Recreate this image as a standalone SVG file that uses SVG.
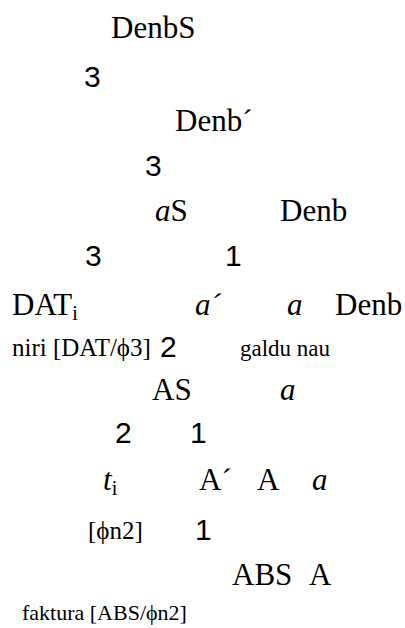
<svg xmlns="http://www.w3.org/2000/svg" width="405" height="628" viewBox="0 0 405 628">
<style>
text{fill:#000}
.t{font-family:"Liberation Serif","Times New Roman",serif;font-size:31px}
.i{font-style:italic}
.d{font-family:"Liberation Sans",Arial,sans-serif;font-size:30px}
.s{font-family:"Liberation Serif","Times New Roman",serif;font-size:23px}
.sub{font-size:20px}
</style>
<rect width="405" height="628" fill="#fff"/>
<g id="connectors"></g>
<g id="n-DenbS"><text class="t" x="111" y="38">DenbS</text></g>
<g id="b1"><text class="d" x="84" y="87">3</text></g>
<g id="n-Denb-bar"><text class="t" x="175" y="131">Denb´</text></g>
<g id="b2"><text class="d" x="145" y="176">3</text></g>
<g id="n-aS"><text class="t" x="155" y="221"><tspan class="i">a</tspan>S</text></g>
<g id="n-Denb1"><text class="t" x="280" y="221">Denb</text></g>
<g id="b3"><text class="d" x="85" y="266">3</text></g>
<g id="b4"><text class="d" x="225" y="266">1</text></g>
<g id="n-DAT"><text class="t" x="12" y="315">DAT<tspan class="sub" dy="5">i</tspan></text></g>
<g id="n-abar"><text class="t i" x="195" y="315">a´</text></g>
<g id="n-a1"><text class="t i" x="287" y="315">a</text></g>
<g id="n-Denb2"><text class="t" x="335" y="315">Denb</text></g>
<g id="l-niri"><text class="s" x="12" y="356" style="font-size:25px">niri [DAT/ϕ3]</text></g>
<g id="b5"><text class="d" x="160" y="357">2</text></g>
<g id="l-galdu"><text class="s" x="240" y="356">galdu nau</text></g>
<g id="n-AS"><text class="t" x="152" y="400">AS</text></g>
<g id="n-a2"><text class="t i" x="280" y="400">a</text></g>
<g id="b6"><text class="d" x="115" y="443">2</text></g>
<g id="b7"><text class="d" x="190" y="443">1</text></g>
<g id="n-ti"><text class="t" x="103" y="490"><tspan class="i">t</tspan><tspan class="sub" dy="5">i</tspan></text></g>
<g id="n-Abar"><text class="t" x="199" y="490">A´</text></g>
<g id="n-A"><text class="t" x="257" y="490">A</text></g>
<g id="n-a3"><text class="t i" x="312" y="490">a</text></g>
<g id="l-phin2"><text class="s" x="88" y="539" style="font-size:25px">[ϕn2]</text></g>
<g id="b8"><text class="d" x="195" y="540">1</text></g>
<g id="n-ABSA"><text class="t" x="232" y="585">ABS<tspan x="309">A</tspan></text></g>
<g id="l-faktura"><text class="s" x="22" y="620" style="font-size:22px">faktura [ABS/ϕn2]</text></g>
</svg>
